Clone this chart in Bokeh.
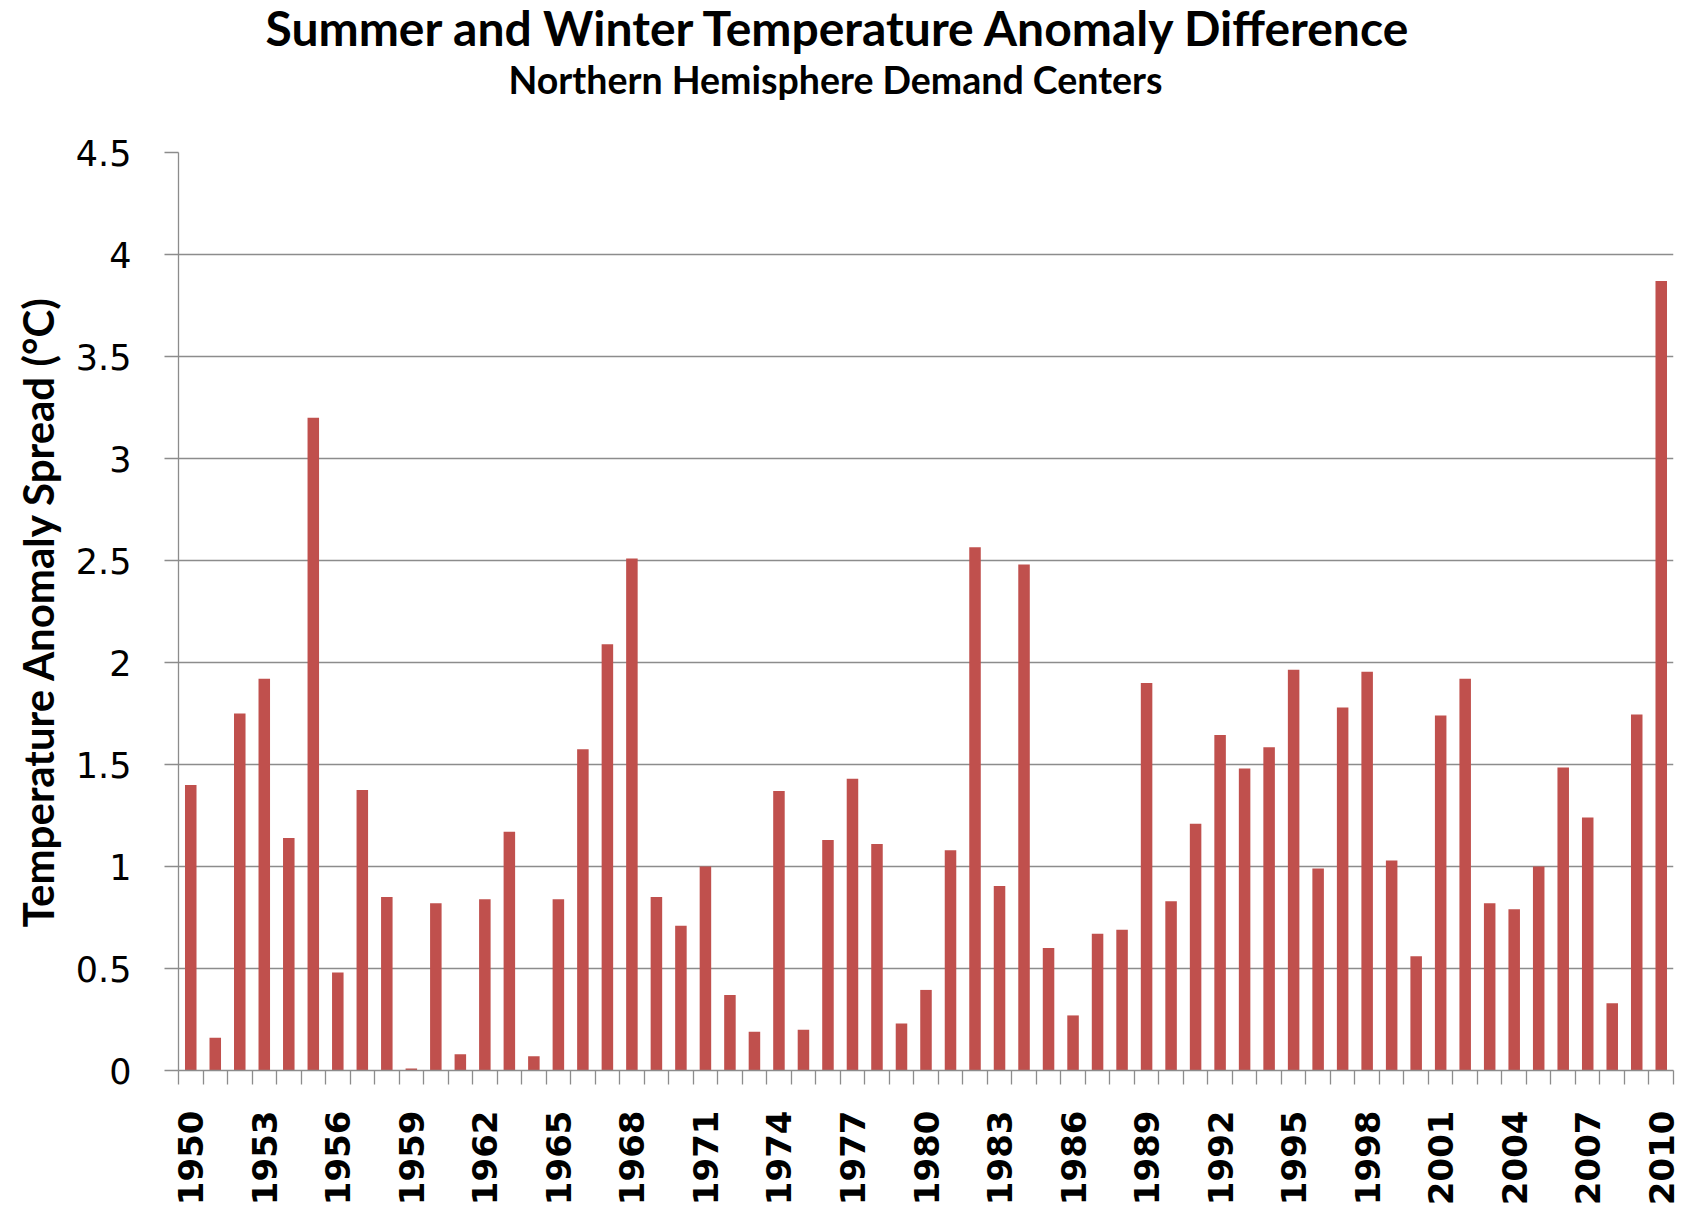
import math
from bokeh.plotting import figure
from bokeh.models import (Range1d, FixedTicker, NumeralTickFormatter, Title,
                          ColumnDataSource)
from bokeh.embed import file_html
from bokeh.resources import INLINE

# ---- data ----
years = list(range(1950, 2011))
spread = [1.40, 0.16, 1.75, 1.92, 1.14, 3.20, 0.48, 1.375, 0.85, 0.01,
          0.82, 0.08, 0.84, 1.17, 0.07, 0.84, 1.575, 2.09, 2.51, 0.85,
          0.71, 1.00, 0.37, 0.19, 1.37, 0.20, 1.13, 1.43, 1.11, 0.23,
          0.395, 1.08, 2.565, 0.905, 2.48, 0.60, 0.27, 0.67, 0.69, 1.90,
          0.83, 1.21, 1.645, 1.48, 1.585, 1.965, 0.99, 1.78, 1.955, 1.03,
          0.56, 1.74, 1.92, 0.82, 0.79, 1.00, 1.485, 1.24, 0.33, 1.745,
          3.87]
y_ticks = [0, 0.5, 1, 1.5, 2, 2.5, 3, 3.5, 4, 4.5]
x_tick_years = [1950, 1953, 1956, 1959, 1962, 1965, 1968, 1971, 1974, 1977,
                1980, 1983, 1986, 1989, 1992, 1995, 1998, 2001, 2004, 2007, 2010]
title_text = "Summer and Winter  Temperature Anomaly Difference"
subtitle_text = "Northern Hemisphere Demand Centers"
y_label = "Temperature Anomaly Spread (\u00b0C)"

boundaries = [y - 0.5 for y in years] + [years[-1] + 0.5]

src = ColumnDataSource(data=dict(year=years, spread=spread))

GRID = "#8c8c8c"

p = figure(frame_width=1495, frame_height=918,
           min_border_left=178, min_border_right=11,
           min_border_top=152, min_border_bottom=137,
           x_range=Range1d(years[0] - 0.5, years[-1] + 0.5),
           y_range=Range1d(0, 4.5),
           output_backend="svg", toolbar_location=None,
           background_fill_color="white", border_fill_color="white")
p.outline_line_color = None

p.vbar(x="year", top="spread", width=0.47, source=src,
       fill_color="#C0504D", line_color=None)

# x axis
xa = p.xaxis[0]
xa.ticker = FixedTicker(ticks=x_tick_years, minor_ticks=boundaries)
xa.major_tick_line_color = None
xa.major_tick_out = 0
xa.major_tick_in = 0
xa.minor_tick_out = 14
xa.minor_tick_in = 0
xa.minor_tick_line_color = GRID
xa.minor_tick_line_width = 1.3
xa.axis_line_color = GRID
xa.axis_line_width = 1.3
xa.major_label_orientation = math.pi / 2
xa.major_label_text_font = "DejaVu Sans"
xa.major_label_text_font_style = "bold"
xa.major_label_text_font_size = "34px"
xa.major_label_text_color = "black"
xa.major_label_standoff = 26

# y axis
ya = p.yaxis[0]
ya.ticker = FixedTicker(ticks=y_ticks, minor_ticks=[])
ya.formatter = NumeralTickFormatter(format="0.[0]")
ya.major_tick_out = 14
ya.major_tick_in = 0
ya.major_tick_line_color = GRID
ya.major_tick_line_width = 1.3
ya.minor_tick_line_color = None
ya.axis_line_color = GRID
ya.axis_line_width = 1.3
ya.major_label_text_font = "DejaVu Sans"
ya.major_label_text_font_size = "35px"
ya.major_label_text_color = "black"
ya.major_label_standoff = 33
ya.axis_label = y_label
ya.axis_label_text_font = "Lato"
ya.axis_label_text_font_style = "bold"
ya.axis_label_text_font_size = "42px"
ya.axis_label_text_color = "black"
ya.axis_label_standoff = 10

p.xgrid.grid_line_color = None
p.ygrid.ticker = FixedTicker(ticks=y_ticks, minor_ticks=[])
p.ygrid.grid_line_color = GRID
p.ygrid.grid_line_width = 1.3

# blank spacer between the frame and the subtitle
p.add_layout(Title(text=" ", text_font="Lato", text_font_size="10px",
                   standoff=29), "above")

# titles (subtitle first: nearer the frame)
p.add_layout(Title(text=subtitle_text, align="left", offset=330,
                   text_font="Lato", text_font_style="bold",
                   text_font_size="37.5px", text_color="black",
                   standoff=15, vertical_align="bottom"), "above")
p.add_layout(Title(text=title_text, align="left", offset=87,
                   text_font="Lato", text_font_style="bold",
                   text_font_size="48px", text_color="black",
                   standoff=-20, vertical_align="top"), "above")

open("out.html", "w").write(file_html(p, INLINE))
